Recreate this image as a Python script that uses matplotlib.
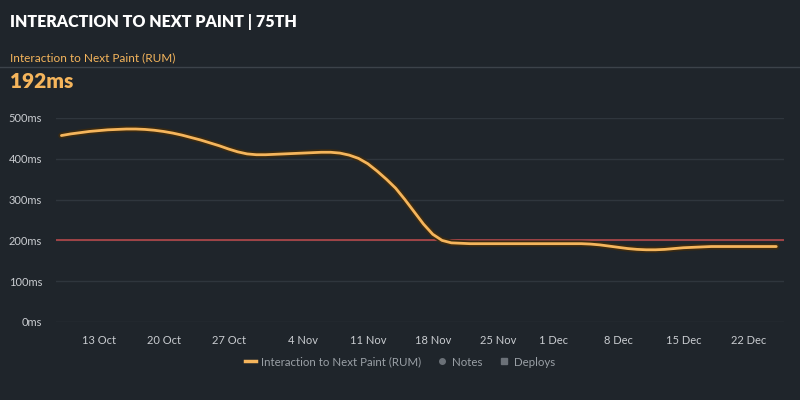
import numpy as np
import pandas as pd
import matplotlib
matplotlib.use("Agg")
import matplotlib.pyplot as plt
from matplotlib.lines import Line2D

plt.rcParams['font.family'] = ['Lato', 'DejaVu Sans']

### daily values (ms), 9 Oct -> 25 Dec
dates = pd.date_range("2023-10-09", "2023-12-25", freq="D")
oct_vals = [457, 461, 464, 467, 469, 471, 472, 473, 473, 472, 470, 467,
            463, 458, 452, 446, 439, 432, 424, 417, 412, 410, 410]
nov_vals = [411, 412, 413, 414, 415, 416, 416, 414, 409, 401, 388, 370,
            350, 328, 300, 270, 240, 215, 200, 194, 193, 192, 192, 192,
            192, 192, 192, 192, 192, 192]
dec_vals = [192, 192, 192, 192, 191, 189, 186, 183, 180, 178, 177, 177,
            178, 180, 182, 183, 184, 185, 185, 185, 185, 185, 185, 185, 185]
inp = oct_vals + nov_vals + dec_vals
threshold = 200
yticks = [0, 100, 200, 300, 400, 500]
xticks = pd.to_datetime(["2023-10-13", "2023-10-20", "2023-10-27", "2023-11-04",
                         "2023-11-11", "2023-11-18", "2023-11-25", "2023-12-01",
                         "2023-12-08", "2023-12-15", "2023-12-22"])
xlabels = ["13 Oct", "20 Oct", "27 Oct", "4 Nov", "11 Nov", "18 Nov",
           "25 Nov", "1 Dec", "8 Dec", "15 Dec", "22 Dec"]

bg = "#1f252b"
orange = "#f5b55c"
grid = "#2f363d"
txt = "#c9ccd0"

fig = plt.figure(figsize=(8, 4), dpi=100, facecolor=bg)
ax = fig.add_axes([0.07, 0.195, 0.91, 0.51], facecolor=bg)

ax.plot(dates, inp, color="#3a2a12", lw=4.5, solid_capstyle="round", zorder=3)
ax.plot(dates, inp, color=orange, lw=2, solid_capstyle="round", zorder=4)
ax.axhline(threshold, color="#b4484a", lw=1.2, zorder=2)

ax.set_ylim(0, 500)
ax.set_xlim(pd.Timestamp("2023-10-08 10:00"), pd.Timestamp("2023-12-25 20:00"))
ax.set_yticks(yticks)
ax.set_yticklabels([f"{v}ms" for v in yticks])
ax.set_xticks(xticks)
ax.set_xticklabels(xlabels)
ax.grid(axis="y", color=grid, lw=1)
ax.set_axisbelow(True)
for s in ax.spines.values():
    s.set_visible(False)
ax.tick_params(length=0, colors=txt, labelsize=8)
ax.tick_params(axis="x", pad=9)
ax.tick_params(axis="y", pad=10)

# header
fig.text(0.012, 0.945, "INTERACTION TO NEXT PAINT | 75TH", color="white",
         fontsize=11.5, fontweight="heavy", va="center")
fig.text(0.012, 0.855, "Interaction to Next Paint (RUM)", color=orange,
         fontsize=8.5, va="center")
fig.add_artist(Line2D([0, 1], [0.832, 0.832], color="#3c434a", lw=1))
fig.text(0.012, 0.795, "192ms", color=orange, fontsize=15,
         fontweight="heavy", va="center")

# legend
handles = [Line2D([], [], color=orange, lw=2.5),
           Line2D([], [], color="#6b7178", marker="o", ls="", markersize=4),
           Line2D([], [], color="#6b7178", marker="s", ls="", markersize=4)]
fig.legend(handles, ["Interaction to Next Paint (RUM)", "Notes", "Deploys"],
           loc="center", bbox_to_anchor=(0.5, 0.095), ncol=3, frameon=False,
           fontsize=8.3, labelcolor="#9aa0a6", handlelength=1.0,
           handletextpad=0.4, columnspacing=1.3)

fig.savefig("out.png", facecolor=bg)
